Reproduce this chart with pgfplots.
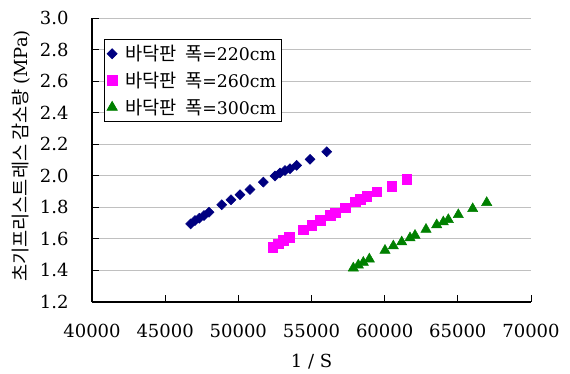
\documentclass[border=0pt]{standalone}
\usepackage{fontspec}
\setmainfont{DejaVu Serif}
\newfontfamily\kr{Noto Sans CJK KR}
\usepackage{pgfplots}
\pgfplotsset{compat=1.18}
\definecolor{navyc}{RGB}{0,0,128}
\definecolor{magc}{RGB}{255,0,255}
\definecolor{grnc}{RGB}{0,128,0}
\definecolor{gridc}{RGB}{192,192,192}
\newcommand{\lf}{\fontsize{13}{16}\selectfont}
\newcommand{\kf}{\kr\fontsize{14}{16}\selectfont}
\begin{document}
\begin{tikzpicture}
\begin{axis}[
  scale only axis,
  width=329.25pt, height=213pt,
  xmin=40000, xmax=70000, ymin=1.2, ymax=3.0,
  xtick={40000,45000,50000,55000,60000,65000,70000},
  ytick={1.2,1.4,1.6,1.8,2.0,2.2,2.4,2.6,2.8,3.0},
  scaled x ticks=false,
  /pgf/number format/assume math mode=true,
  xticklabel style={/pgf/number format/1000 sep={}, yshift=-13pt},
  yticklabel style={/pgf/number format/fixed, /pgf/number format/fixed zerofill, /pgf/number format/precision=1, xshift=-14pt},
  tick label style={font=\fontsize{13.5}{16}\selectfont},
  axis x line=bottom, axis y line=left,
  axis line style={-, black, line width=0.8pt},
  tick align=inside,
  major tick length=5pt,
  tick style={black, line width=0.6pt},
  ymajorgrids,
  grid style={gridc, line width=0.6pt},
  xlabel={\fontsize{13.5}{16}\selectfont 1 / S},
  ylabel={{\kf 초기프리스트레스 감소량} \fontsize{13.5}{16}\selectfont(MPa)},
  xlabel style={at={(axis description cs:0.5,-0.211)}, anchor=center},
  ylabel style={at={(axis description cs:-0.162,0.514)}, anchor=center},
  legend style={at={(0,1)}, anchor=north west, xshift=9pt, yshift=-16pt,
    draw=black, line width=0.6pt, fill=white,
    inner sep=2pt, row sep=3pt, cells={anchor=west}},
  legend cell align=left,
]
\addplot[only marks, mark=square*, mark size=2.65pt, mark options={rotate=45}, color=navyc] coordinates {
(46745,1.695) (47039,1.716) (47333,1.731) (47654,1.748) (47996,1.769)
(48863,1.816) (49499,1.848) (50114,1.880) (50797,1.913) (51707,1.960)
(52506,1.999) (52848,2.018) (53189,2.033) (53531,2.045) (53988,2.066)
(54898,2.104) (56039,2.152)
};
\addlegendentry{\hspace{4pt}{\kf 바닥판\hspace{0.45em}폭}\lf=220cm}
\addplot[only marks, mark=square*, mark size=3.6pt, color=magc] coordinates {
(52349,1.548) (52737,1.569) (53073,1.591) (53463,1.612) (54440,1.659)
(55014,1.687) (55581,1.718) (56264,1.750) (56606,1.765) (57290,1.797)
(57973,1.835) (58315,1.852) (58771,1.871) (59455,1.899) (60480,1.935)
(61505,1.977)
};
\addlegendentry{\hspace{4pt}{\kf 바닥판\hspace{0.45em}폭}\lf=260cm}
\addplot[only marks, mark=triangle*, mark size=4.4pt, color=grnc] coordinates {
(57857,1.415) (58199,1.434) (58541,1.451) (58951,1.472) (60023,1.527)
(60592,1.555) (61165,1.580) (61732,1.606) (62074,1.622) (62825,1.660)
(63556,1.689) (64007,1.707) (64349,1.722) (65032,1.753) (66016,1.791)
(66973,1.830)
};
\addlegendentry{\hspace{4pt}{\kf 바닥판\hspace{0.45em}폭}\lf=300cm}
\end{axis}
\path ([shift={(-69pt,-52.5pt)}]current axis.south west) rectangle ([shift={(29.25pt,13.5pt)}]current axis.north east);
\end{tikzpicture}
\end{document}
